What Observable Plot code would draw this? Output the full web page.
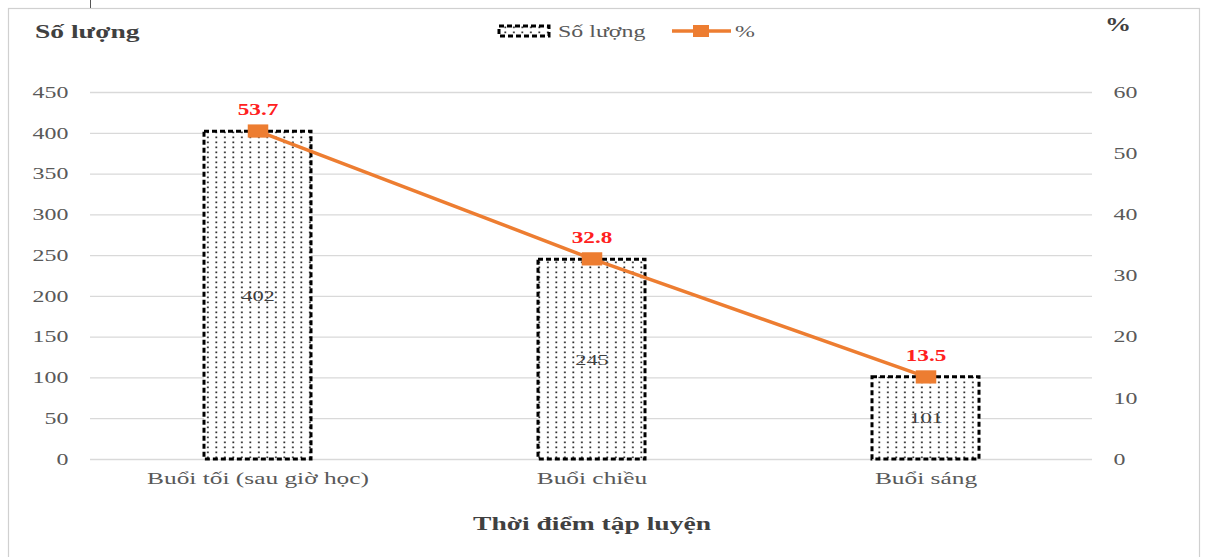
<!DOCTYPE html>
<html>
<head>
<meta charset="utf-8">
<script src="https://cdn.jsdelivr.net/npm/d3@7"></script>
<script src="https://cdn.jsdelivr.net/npm/@observablehq/plot@0.6"></script>
<style>
  html, body { margin: 0; padding: 0; background: #fff; }
  #chart { position: relative; width: 1206px; height: 557px; overflow: hidden; }
  svg text { font-family: "Liberation Serif", "Times New Roman", serif; }
</style>
</head>
<body>
<svg width="0" height="0" style="position:absolute">
  <defs>
    <pattern id="dots" width="8.5" height="5" patternUnits="userSpaceOnUse">
      <rect width="8.5" height="5" fill="#ffffff"></rect>
      <rect x="3" y="1.5" width="1.7" height="1.7" fill="#222"></rect>
    </pattern>
  </defs>
</svg>
<div id="chart"></div>
<script>
const categories = ["Buổi tối (sau giờ học)", "Buổi chiều", "Buổi sáng"];
const counts = [402, 245, 101];
const percents = [53.7, 32.8, 13.5];
const leftTicks = [0, 50, 100, 150, 200, 250, 300, 350, 400, 450];
const rightTicks = [0, 10, 20, 30, 40, 50, 60];
const countMax = 450;
const pctMax = 60;
const k = countMax / pctMax;
const STRETCH = 1.45;

const data = categories.map((c, i) => ({cat: c, count: counts[i], pct: percents[i]}));

const plot = Plot.plot({
  width: 1206,
  height: 557,
  marginLeft: 90,
  marginRight: 114,
  marginTop: 92,
  marginBottom: 98,
  style: {fontFamily: "Liberation Serif, serif", background: "transparent", overflow: "visible"},
  x: {type: "band", domain: categories, paddingInner: 0.68, paddingOuter: 0.34},
  y: {domain: [0, countMax]},
  marks: [
    Plot.ruleY(leftTicks, {stroke: "#d9d9d9", strokeWidth: 1.3}),
    Plot.axisY(leftTicks, {anchor: "left", tickSize: 0, tickPadding: 22, label: null,
      fontSize: 16.5, fill: "#595959"}),
    Plot.axisY(rightTicks.map(p => p * k), {anchor: "right", tickSize: 0, tickPadding: 21, label: null,
      tickFormat: d => String(Math.round(d / k)), fontSize: 16.5, fill: "#595959"}),
    Plot.axisX({tickSize: 0, tickPadding: 12, label: null, fontSize: 17.5, fill: "#595959"}),
    Plot.barY(data, {x: "cat", y: "count", fill: "url(#dots)", stroke: "#000",
      strokeWidth: 3, strokeDasharray: "5,3"}),
    Plot.text(data, {x: "cat", y: d => d.count / 2, text: d => String(d.count),
      fontSize: 15.5, fill: "#404040"}),
    Plot.line(data, {x: "cat", y: d => d.pct * k, stroke: "#ED7D31", strokeWidth: 3.5}),
    Plot.dot(data, {x: "cat", y: d => d.pct * k, r: 9.3, fill: "#ED7D31", stroke: "none",
      symbol: {draw(ctx, size) { const h = Math.sqrt(size / 1.55); const w = h * 1.55; ctx.rect(-w / 2, -h / 2, w, h); }}}),
    Plot.text(data, {x: "cat", y: d => d.pct * k, dy: -21, text: d => d.pct.toFixed(1),
      fontSize: 16, fontWeight: "bold", fill: "#FF2020"})
  ]
});

document.getElementById("chart").appendChild(plot);

const svg = d3.select(plot);
// outer frame
svg.insert("rect", ":first-child").attr("x", 8.5).attr("y", 8.5).attr("width", 1191).attr("height", 560)
  .attr("fill", "#fff").attr("stroke", "#d0d0d0").attr("stroke-width", 1.2);
svg.append("line").attr("x1", 90.5).attr("x2", 90.5).attr("y1", 0).attr("y2", 8)
  .attr("stroke", "#555").attr("stroke-width", 1);

// axis titles
svg.append("text").attr("x", 35).attr("y", 38).attr("text-anchor", "start").text("Số lượng")
  .attr("font-size", 19).attr("font-weight", "bold").attr("fill", "#404040");
svg.append("text").attr("x", 1105).attr("y", 31).attr("text-anchor", "start").text("%")
  .attr("font-size", 18).attr("font-weight", "bold").attr("fill", "#404040");
svg.append("text").attr("x", 592).attr("y", 530).attr("text-anchor", "middle").text("Thời điểm tập luyện")
  .attr("font-size", 19).attr("font-weight", "bold").attr("fill", "#404040");

// legend
const lg = svg.append("g");
lg.append("rect").attr("x", 499).attr("y", 26).attr("width", 50).attr("height", 10)
  .attr("fill", "url(#dots)").attr("stroke", "#000").attr("stroke-width", 3).attr("stroke-dasharray", "5,3");
lg.append("text").attr("x", 558).attr("y", 37).attr("text-anchor", "start").text("Số lượng")
  .attr("font-size", 16.5).attr("fill", "#595959");
lg.append("line").attr("x1", 672).attr("x2", 731).attr("y1", 31).attr("y2", 31)
  .attr("stroke", "#ED7D31").attr("stroke-width", 3.5);
lg.append("rect").attr("x", 693).attr("y", 25).attr("width", 16).attr("height", 12).attr("fill", "#ED7D31");
lg.append("text").attr("x", 735).attr("y", 37).attr("text-anchor", "start").text("%")
  .attr("font-size", 16.5).attr("fill", "#595959");

// horizontal stretch of every text about its anchor point (reference glyphs are wide)
const isNum = v => v != null && v !== "" && Number.isFinite(Number(v));
svg.selectAll("text").each(function() {
  const t = d3.select(this);
  const ax = t.attr("x"), ay = t.attr("y");
  const x = isNum(ax) ? Number(ax) : 0, y = isNum(ay) ? Number(ay) : 0;
  if (isNum(ax)) t.attr("x", null);
  if (isNum(ay)) t.attr("y", null);
  const tr = t.attr("transform") || "";
  t.attr("transform", `${tr} translate(${x},${y}) scale(${STRETCH},1)`);
});
</script>
</body>
</html>
